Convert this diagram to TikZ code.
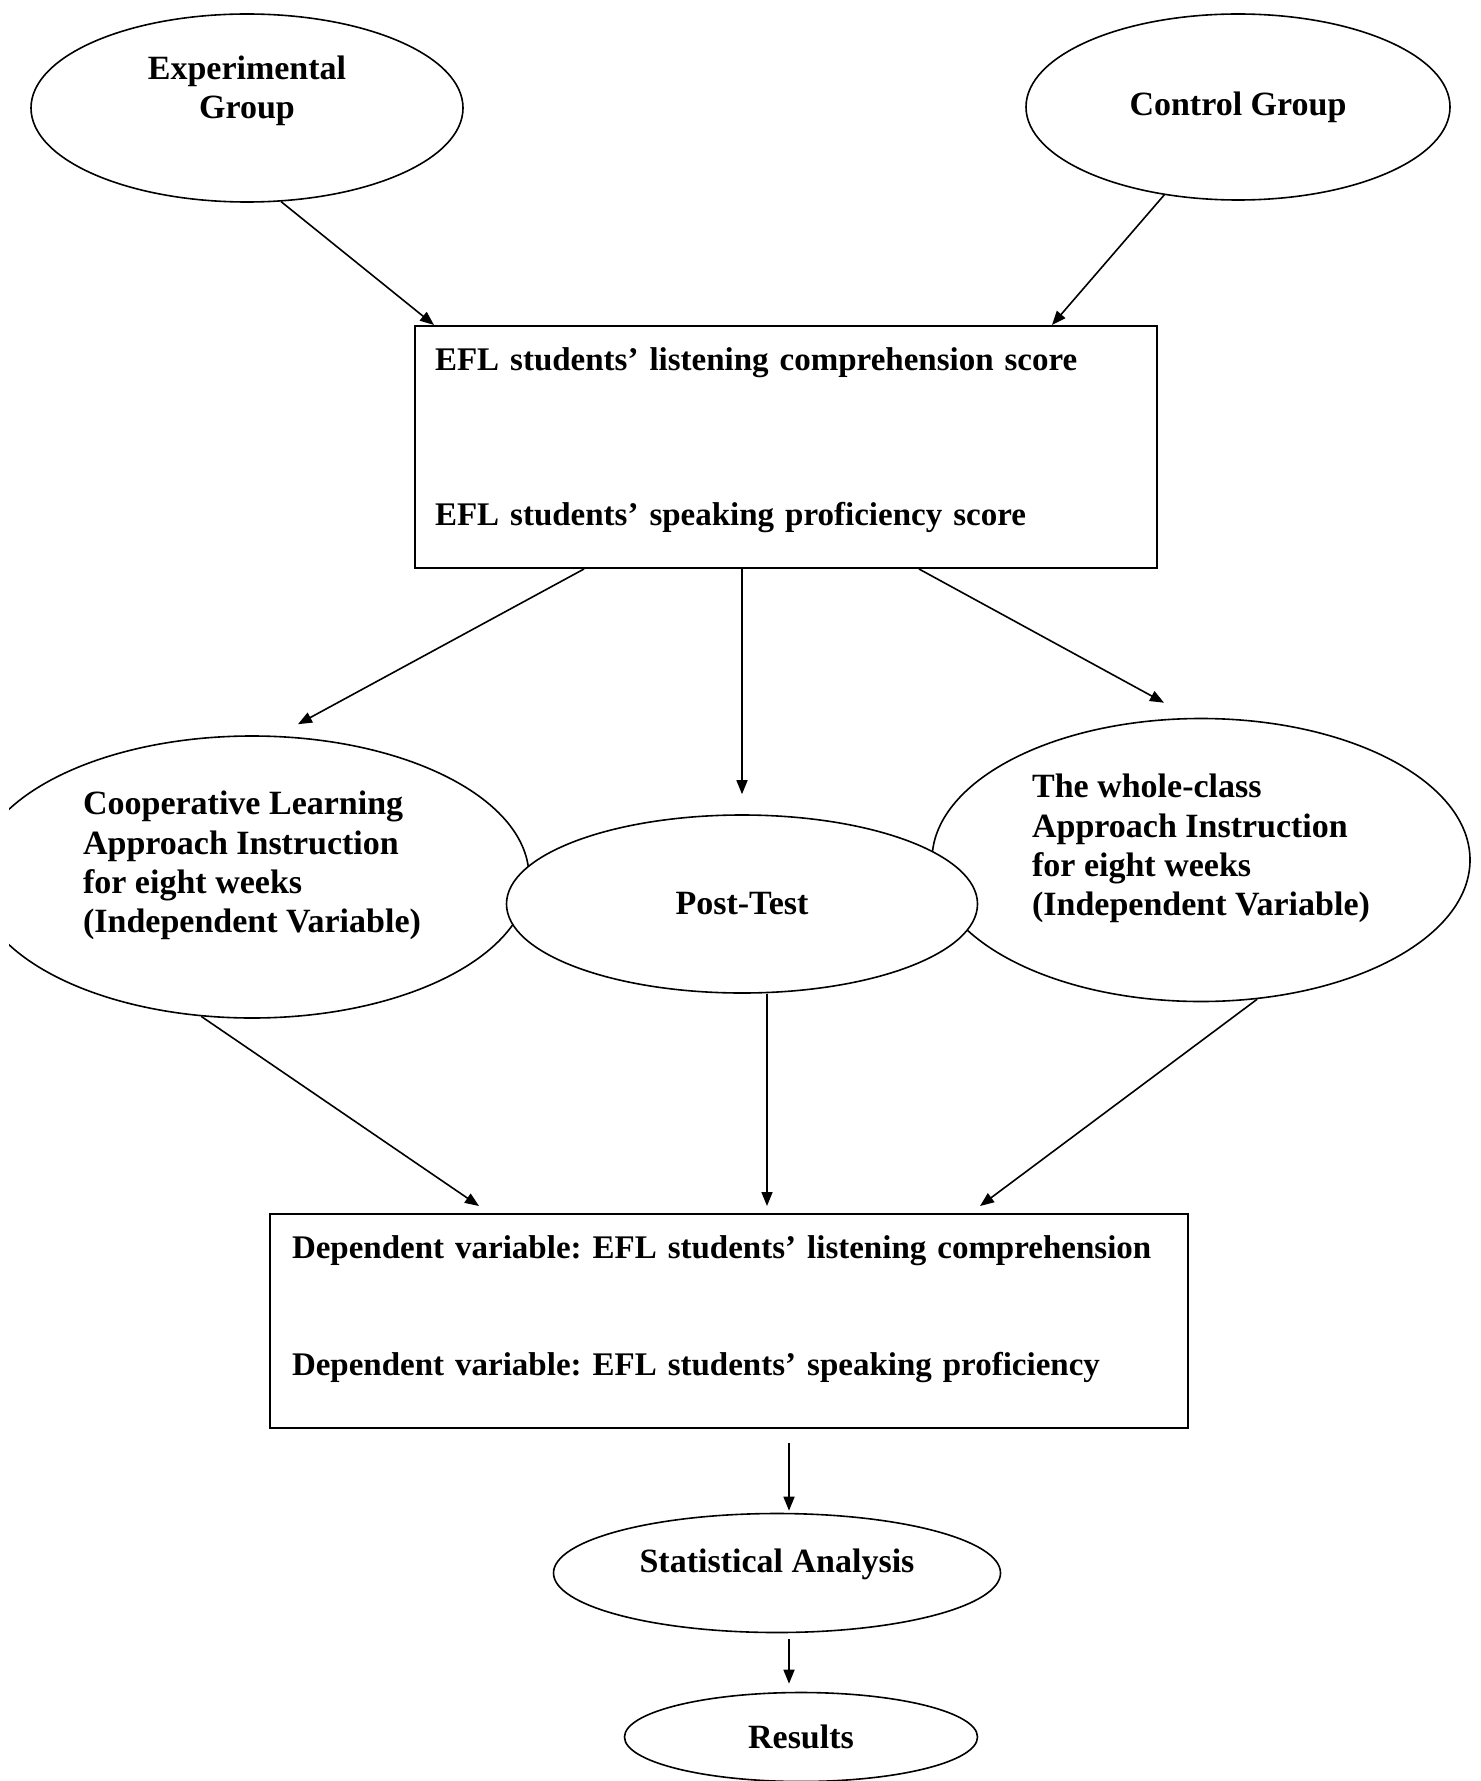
\documentclass[tikz,border=0pt]{standalone}
\usepackage{fontspec}
\setmainfont{Liberation Serif}
\usetikzlibrary{arrows.meta,positioning,shapes.geometric,calc}
\newcommand{\figfont}{\bfseries\fontsize{17}{19.7}\selectfont}
\newcommand{\boxfont}{\bfseries\fontsize{16.5}{19.7}\selectfont\frenchspacing}
\tikzset{
  fc/group/.style={draw, ellipse, line width=0.8pt, inner sep=0pt, align=center, font=\figfont},
  fc/block/.style={draw, rectangle, line width=1pt, align=left, font=\boxfont},
  fc/arrow/.style={-{Triangle[length=7pt,width=5.5pt]}, line width=0.8pt}
}

\begin{document}
\begin{tikzpicture}[x=0.5pt, y=-0.5pt]
  \useasboundingbox (0,0) rectangle (1480,1781);

  % groups
  \node[fc/group, minimum width=216pt, minimum height=94pt, text depth=21pt] (exp) at (247,108) {Experimental\\Group};
  \node[fc/group, minimum width=212pt, minimum height=93pt] (ctrl) at (1238,107) {Control Group};

  % pre-test scores
  \node[fc/block, minimum height=121pt, text width=351pt, inner xsep=10pt, text depth=88pt] (pretest) at (786,447)
    {EFL students’ listening comprehension score\\[58pt]EFL students’ speaking proficiency score};

  % treatments
  \begin{scope}
    \clip (9,0) rectangle (1480,1781);
    \node[fc/group, align=left, minimum width=277pt, minimum height=141pt, text depth=15pt] (coop) at (252,877)
      {Cooperative Learning\\Approach Instruction\\for eight weeks\\(Independent Variable)};
  \end{scope}
  \node[fc/group, align=left, minimum width=269pt, minimum height=141.5pt, text depth=15pt] (whole) at (1201,860)
    {The whole-class\\Approach Instruction\\for eight weeks\\(Independent Variable)};
  \node[fc/group, fill=white, minimum width=235.5pt, minimum height=89pt] (post) at (742,904) {Post-Test};

  % dependent variables
  \node[fc/block, minimum height=107pt, text width=437pt, inner xsep=11pt, text depth=74pt] (depvar) at (729,1321)
    {Dependent variable: EFL students’ listening comprehension\\[39pt]Dependent variable: EFL students’ speaking proficiency};

  \node[fc/group, minimum width=223.5pt, minimum height=59.5pt, text depth=12pt] (stat) at (777,1573) {Statistical Analysis};
  \node[fc/group, minimum width=176.5pt, minimum height=44.5pt] (res) at (801,1737) {Results};

  \draw[fc/arrow] (exp.-70) -- ([xshift=10pt]pretest.north west);
  \draw[fc/arrow] (ctrl.230) -- ([xshift=-53pt]pretest.north east);

  \draw[fc/arrow] ([xshift=85pt]pretest.south west) -- ([xshift=23pt,yshift=5.5pt]coop.north);
  \draw[fc/arrow] (post |- pretest.south) -- ([yshift=10pt]post.north);
  \draw[fc/arrow] ([xshift=252.5pt]pretest.south west) -- ([xshift=-18.5pt,yshift=7.5pt]whole.north);

  \draw[fc/arrow] (coop.250) -- ([xshift=105pt,yshift=3.5pt]depvar.north west);
  \draw[fc/arrow] ([xshift=12.5pt]post.south) -- ([xshift=12.5pt,yshift=3.5pt]post.south |- depvar.north);
  \draw[fc/arrow] (whole.-68) -- ([xshift=-104.5pt,yshift=3.5pt]depvar.north east);

  \draw[fc/arrow] ([xshift=6pt,yshift=-7pt]stat.north |- depvar.south) -- ([xshift=6pt,yshift=1pt]stat.north);
  \draw[fc/arrow] ([xshift=6pt,yshift=-3pt]stat.south) -- ([xshift=-6pt,yshift=4pt]res.north);
\end{tikzpicture}
\end{document}
